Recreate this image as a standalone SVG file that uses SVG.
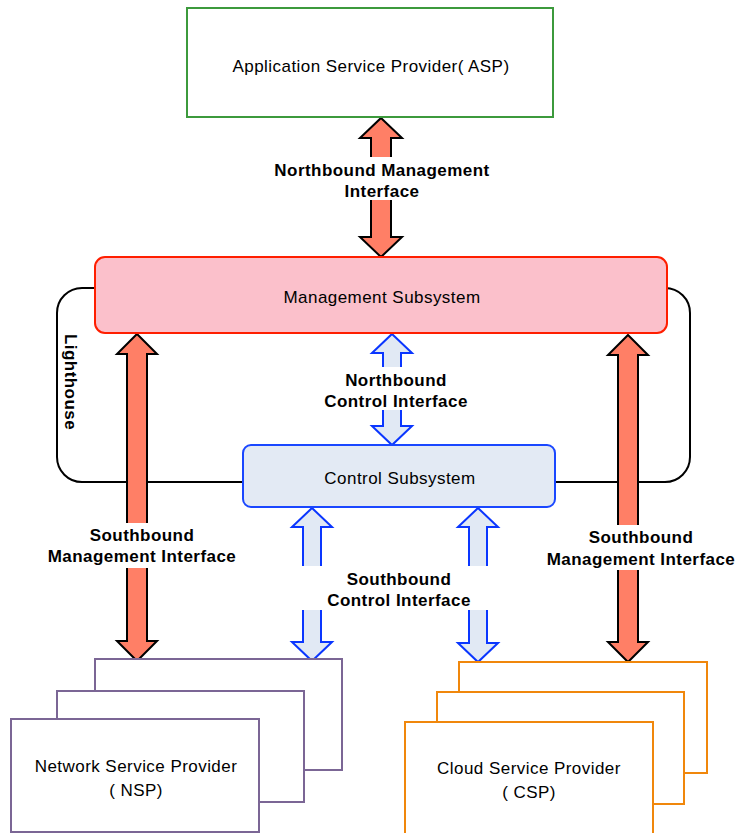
<svg xmlns="http://www.w3.org/2000/svg" width="737" height="833" viewBox="0 0 737 833">
<style>
text{font-family:"Liberation Sans",Arial,sans-serif;fill:#000;text-anchor:middle;letter-spacing:0.45px}
.n{font-size:17px}
.b{font-size:17px;font-weight:bold}
.ra{fill:#FF7F66;stroke:#000;stroke-width:2;stroke-linejoin:miter}
.ba{fill:#E1E9F4;stroke:#0A36FF;stroke-width:2;stroke-linejoin:miter}
.bg{fill:#fff;stroke:none}
.nsp{fill:#fff;stroke:#7B6695;stroke-width:2}
.csp{fill:#fff;stroke:#F0870C;stroke-width:2}
</style>
<rect x="0" y="0" width="737" height="833" fill="#fff"/>
<g id="lighthouse">
<rect x="57" y="288" width="633" height="194" rx="25" fill="none" stroke="#000" stroke-width="2"/>
<text class="b" transform="translate(65,382) rotate(90)">Lighthouse</text>
</g>
<g id="connectors">
<polygon id="nb-mgmt" class="ra" points="381,118 402,138 391,138 391,237 402,237 381,257 360,237 371,237 371,138 360,138"/>
<polygon id="sb-mgmt-left" class="ra" points="137,334 157,354 147,354 147,641 157,641 137,661 117,641 127,641 127,354 117,354"/>
<polygon id="sb-mgmt-right" class="ra" points="628,335 648,355 638,355 638,642 648,642 628,662 608,642 618,642 618,355 608,355"/>
<polygon id="nb-ctrl" class="ba" points="392,334 412,353 401,353 401,426 412,426 392,445 372,426 383,426 383,353 372,353"/>
<polygon id="sb-ctrl-left" class="ba" points="312,508 332,527 321,527 321,642 332,642 312,661 292,642 303,642 303,527 292,527"/>
<polygon id="sb-ctrl-right" class="ba" points="478,508 498,527 487,527 487,643 498,643 478,662 458,643 469,643 469,527 458,527"/>
<g id="labels">
<rect class="bg" x="272" y="157" width="222" height="43"/>
<text class="b" x="382" y="176">Northbound Management</text>
<text class="b" x="382" y="197">Interface</text>
<rect class="bg" x="324" y="367" width="146" height="43"/>
<text class="b" x="396" y="386">Northbound</text>
<text class="b" x="396" y="407">Control Interface</text>
<rect class="bg" x="295" y="566" width="200" height="44"/>
<text class="b" x="399" y="585">Southbound</text>
<text class="b" x="399" y="606">Control Interface</text>
<rect class="bg" x="45" y="523" width="193" height="45"/>
<text class="b" x="142" y="541">Southbound</text>
<text class="b" x="142" y="562">Management Interface</text>
<rect class="bg" x="545" y="525" width="192" height="45"/>
<text class="b" x="641" y="543">Southbound</text>
<text class="b" x="641" y="565">Management Interface</text>
</g>
</g>
<g id="asp">
<rect x="187" y="8" width="366" height="109" fill="#fff" stroke="#3C9A3C" stroke-width="2"/>
<text class="n" x="371" y="72">Application Service Provider( ASP)</text>
</g>
<g id="management">
<rect x="95" y="257" width="572" height="76" rx="10" fill="#FBC0CB" stroke="#FF1E00" stroke-width="2"/>
<text class="n" x="382" y="303">Management Subsystem</text>
</g>
<g id="control">
<rect x="243" y="445" width="312" height="62" rx="8" fill="#E3EAF4" stroke="#1A47FF" stroke-width="2"/>
<text class="n" x="400" y="484">Control Subsystem</text>
</g>
<g id="nsp">
<rect class="nsp" x="95" y="659" width="247" height="111"/>
<rect class="nsp" x="57" y="691" width="247" height="111"/>
<rect class="nsp" x="11" y="719" width="248" height="113"/>
<text class="n" x="136" y="772">Network Service Provider</text>
<text class="n" x="136" y="796">( NSP)</text>
</g>
<g id="csp">
<rect class="csp" x="459" y="662" width="248" height="111"/>
<rect class="csp" x="437" y="692" width="247" height="112"/>
<rect class="csp" x="405" y="722" width="248" height="120"/>
<text class="n" x="529" y="774">Cloud Service Provider</text>
<text class="n" x="529" y="798">( CSP)</text>
</g>
</svg>
